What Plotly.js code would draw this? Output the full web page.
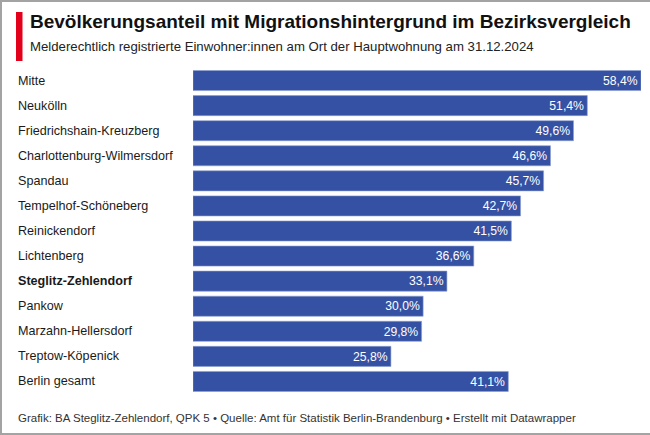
<!DOCTYPE html>
<html><head><meta charset="utf-8">
<script src="https://cdn.plot.ly/plotly-3.0.1.min.js"></script>
<style>
html,body{margin:0;padding:0;background:#fff;}
#wrap{position:relative;width:650px;height:435px;}
#chart{position:absolute;left:0;top:0;width:650px;height:435px;}
#frame{position:absolute;left:0;top:0;width:650px;height:435px;box-sizing:border-box;border-left:2px solid #a3a3a3;border-top:2px solid #a3a3a3;border-bottom:2px solid #a3a3a3;pointer-events:none;}
</style></head>
<body>
<div id="wrap"><div id="chart"></div><div id="frame"></div></div>
<script>
const districts = ["Mitte","Neukölln","Friedrichshain-Kreuzberg","Charlottenburg-Wilmersdorf","Spandau","Tempelhof-Schöneberg","Reinickendorf","Lichtenberg","Steglitz-Zehlendorf","Pankow","Marzahn-Hellersdorf","Treptow-Köpenick","Berlin gesamt"];
const shares = [58.4,51.4,49.6,46.6,45.7,42.7,41.5,36.6,33.1,30.0,29.8,25.8,41.1];
const highlight = "Steglitz-Zehlendorf";
const titleText = "Bevölkerungsanteil mit Migrationshintergrund im Bezirksvergleich";
const subtitleText = "Melderechtlich registrierte Einwohner:innen am Ort der Hauptwohnung am 31.12.2024";
const footerText = "Grafik: BA Steglitz-Zehlendorf, QPK 5 • Quelle: Amt für Statistik Berlin-Brandenburg • Erstellt mit Datawrapper";

const W = 650, H = 435;
const mL = 193, mR = 9, mT = 68, mB = 41;
const pw = W - mL - mR, ph = H - mT - mB;
const px = x => (x - mL) / pw;
const py = y => (H - mB - y) / ph;

const trace = {
  type: 'bar', orientation: 'h',
  x: shares, y: districts,
  marker: {color: '#3551a4', line: {color: '#8c9dd0', width: 0.6}},
  texttemplate: '%{x:.1f}%',
  textposition: 'inside', insidetextanchor: 'end',
  textfont: {family: 'Liberation Sans, Arial, sans-serif', size: 13, color: '#ffffff'},
  cliponaxis: false, hoverinfo: 'skip'
};

const annotations = districts.map(d => ({
  xref: 'paper', yref: 'y', x: px(16), y: d, xanchor: 'left', yanchor: 'middle',
  text: d === highlight ? '<b>' + d + '</b>' : d, showarrow: false,
  font: {family: 'Liberation Sans, Arial, sans-serif', size: 12.6, color: '#1a1a1a'}
}));
annotations.push({xref:'paper', yref:'paper', x: px(28), y: py(22), xanchor:'left', yanchor:'middle',
  text: '<b>' + titleText + '</b>', showarrow:false,
  font:{family:'Liberation Sans, Arial, sans-serif', size:19, color:'#111'}});
annotations.push({xref:'paper', yref:'paper', x: px(28), y: py(47), xanchor:'left', yanchor:'middle',
  text: subtitleText, showarrow:false,
  font:{family:'Liberation Sans, Arial, sans-serif', size:13.2, color:'#222'}});
annotations.push({xref:'paper', yref:'paper', x: px(16), y: py(418), xanchor:'left', yanchor:'middle',
  text: footerText, showarrow:false,
  font:{family:'Liberation Sans, Arial, sans-serif', size:11.5, color:'#333'}});

const layout = {
  width: W, height: H,
  margin: {l: mL, r: mR, t: mT, b: mB, pad: 0},
  paper_bgcolor: '#fff', plot_bgcolor: '#fff',
  separators: ',.',
  bargap: 0.2,
  showlegend: false,
  xaxis: {range: [0, 58.4], visible: false, fixedrange: true},
  yaxis: {autorange: 'reversed', showticklabels: false, showgrid: false, zeroline: false, showline: false, ticks: '', fixedrange: true},
  annotations: annotations,
  shapes: [{type:'rect', xref:'paper', yref:'paper', x0: px(16), x1: px(22.5), y0: py(12), y1: py(61),
    fillcolor:'#e2001a', line:{width:0}}]
};
Plotly.newPlot('chart', [trace], layout, {displayModeBar: false, staticPlot: true});
</script>
</body></html>
